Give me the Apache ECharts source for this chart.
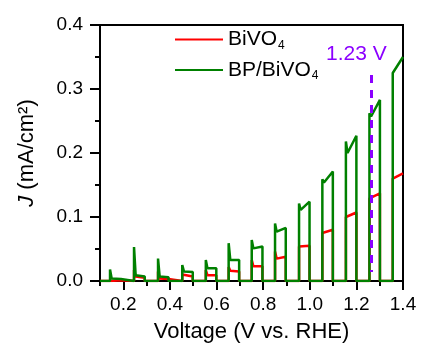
<!DOCTYPE html>
<html><head><meta charset="utf-8">
<script src="https://cdn.jsdelivr.net/npm/echarts@6/dist/echarts.min.js"></script>
<style>html,body{margin:0;padding:0;background:#fff}#c{width:421px;height:349px}</style>
</head><body><div id="c"></div>
<script>
// Chopped-light LSV: light-on / light-off voltages (V vs. RHE)
const lightOn  = [0.143, 0.246, 0.349, 0.453, 0.554, 0.652, 0.751, 0.851, 0.954, 1.054, 1.155, 1.256, 1.356];
const lightOff = [0.190, 0.292, 0.394, 0.498, 0.599, 0.697, 0.797, 0.897, 0.999, 1.099, 1.200, 1.301, 1.400];
// BiVO4 photocurrent (mA/cm2): transient spike, settled value, value at light-off
const bvSpike = [0.003, 0.017, 0.015, 0.010, 0.017, 0.022, 0.033, 0.046, 0.054, 0.075, 0.100, 0.129, 0.160];
const bvDip   = [0.001, 0.007, 0.004, 0.007, 0.009, 0.016, 0.023, 0.035, 0.051, 0.074, 0.100, 0.129, 0.160];
const bvEnd   = [0.001, 0.005, 0.003, 0.007, 0.009, 0.015, 0.023, 0.038, 0.055, 0.080, 0.107, 0.137, 0.168];
// BP/BiVO4 photocurrent (mA/cm2)
const bpSpike = [0.018, 0.053, 0.035, 0.025, 0.033, 0.059, 0.064, 0.090, 0.121, 0.159, 0.218, 0.262, 0.325];
const bpDip   = [0.004, 0.009, 0.007, 0.015, 0.020, 0.033, 0.051, 0.077, 0.111, 0.154, 0.200, 0.257, 0.322];
const bpEnd   = [0.003, 0.007, 0.006, 0.014, 0.020, 0.033, 0.054, 0.083, 0.124, 0.171, 0.227, 0.283, 0.350];
const xMajorTicks = [0.2, 0.4, 0.6, 0.8, 1.0, 1.2, 1.4];
const refLineV = 1.262, refLineTop = 0.322, refLineBottom = 0.014;
const refLabel = '1.23 V';

const X_MIN = 0.1, X_MAX = 1.4, DECAY = 0.007;
function buildTrace(spike, dip, end) {
  const pts = [[X_MIN, 0]];
  for (let i = 0; i < lightOn.length; i++) {
    pts.push([lightOn[i], 0], [lightOn[i], spike[i]], [lightOn[i] + DECAY, dip[i]], [lightOff[i], end[i]]);
    if (lightOff[i] < X_MAX) pts.push([lightOff[i], 0]);
  }
  return pts;
}

const FONT = '"Liberation Sans", Arial, sans-serif';
const chart = echarts.init(document.getElementById('c'), null, {renderer: 'canvas'});
const sub = {a: {fontSize: 21, fontFamily: FONT, color: '#000'}, b: {fontSize: 12, fontFamily: FONT, color: '#000', padding: [12, 0, 0, 1]}};
chart.setOption({
  animation: false,
  backgroundColor: '#fff',
  grid: {left: 100, right: 18, top: 25, bottom: 68, show: true, borderColor: '#000', borderWidth: 2, backgroundColor: 'transparent'},
  legend: {
    orient: 'vertical', left: 170, top: 24, itemGap: 8, itemWidth: 48, itemHeight: 2, icon: 'rect',
    data: ['BiVO4', 'BP/BiVO4'],
    formatter: n => n === 'BiVO4' ? '{a|BiVO}{b|4}' : '{a|BP/BiVO}{b|4}',
    textStyle: {rich: sub, padding: [0, 0, 0, 0]}
  },
  xAxis: [
    {type: 'value', min: X_MIN, max: X_MAX, interval: 0.1, position: 'bottom',
     axisLine: {lineStyle: {color: '#000', width: 2}},
     axisTick: {show: true, inside: false, length: 5, lineStyle: {color: '#000', width: 2}},
     axisLabel: {margin: 14, fontSize: 19, fontFamily: FONT, color: '#000',
       formatter: v => (Math.round(v * 10) % 2 === 0) ? v.toFixed(1) : ''},
     splitLine: {show: false},
     name: 'Voltage (V vs. RHE)', nameLocation: 'middle', nameGap: 40,
     nameTextStyle: {fontSize: 22, fontFamily: FONT, color: '#000'}},
    {type: 'value', min: X_MIN, max: X_MAX, position: 'bottom',
     axisLine: {show: false},
     axisTick: {show: true, inside: false, length: 9, customValues: xMajorTicks, lineStyle: {color: '#000', width: 2}},
     axisLabel: {show: false}, splitLine: {show: false}}
  ],
  yAxis: {
    type: 'value', min: 0, max: 0.4, interval: 0.1,
    axisLine: {show: true, lineStyle: {color: '#000', width: 2}},
    axisTick: {show: true, inside: false, length: 10, lineStyle: {color: '#000', width: 2}},
    minorTick: {show: true, splitNumber: 2, length: 5, lineStyle: {color: '#000', width: 2}},
    axisLabel: {margin: 17, fontSize: 19, fontFamily: FONT, color: '#000', formatter: v => v.toFixed(1)},
    splitLine: {show: false},
    name: '{i|J} (mA/cm²)', nameLocation: 'middle', nameGap: 62,
    nameTextStyle: {fontSize: 22, fontFamily: FONT, color: '#000', rich: {i: {fontStyle: 'italic', fontSize: 22, fontFamily: FONT}}}
  },
  series: [
    {name: 'BiVO4', type: 'line', data: buildTrace(bvSpike, bvDip, bvEnd), showSymbol: false, symbol: 'none',
     lineStyle: {color: '#ff0000', width: 2.5}, itemStyle: {color: '#ff0000'}, z: 2},
    {name: 'BP/BiVO4', type: 'line', data: buildTrace(bpSpike, bpDip, bpEnd), showSymbol: false, symbol: 'none',
     lineStyle: {color: '#008000', width: 2.5}, itemStyle: {color: '#008000'}, z: 3,
     markLine: {silent: true, symbol: ['none', 'none'], label: {show: false},
       lineStyle: {color: '#8b00ff', width: 3, type: [8, 7]},
       data: [[{coord: [refLineV, refLineTop]}, {coord: [refLineV, refLineBottom]}]]}}
  ],
  graphic: [{type: 'text', left: 326, top: 44, style: {text: refLabel, fontSize: 21, fontFamily: FONT, fill: '#8b00ff'}}]
});
</script></body></html>
